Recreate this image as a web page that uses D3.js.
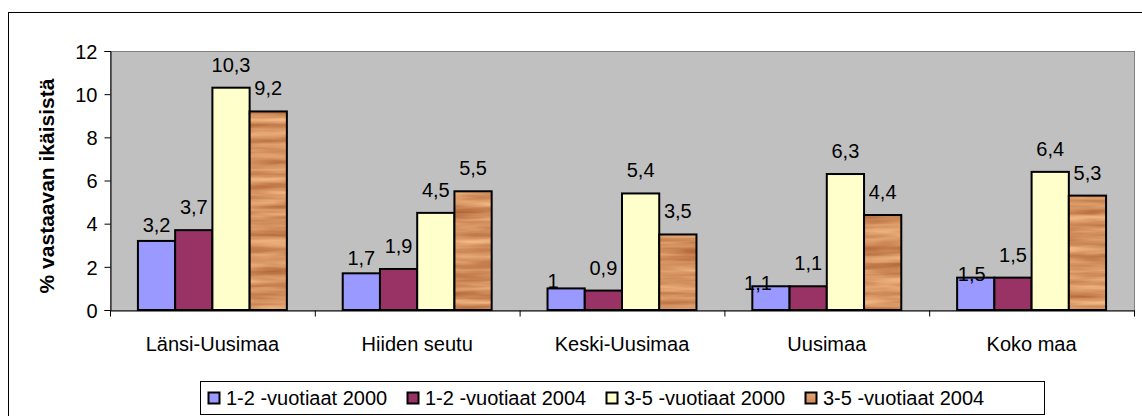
<!DOCTYPE html>
<html>
<head>
<meta charset="utf-8">
<script src="https://cdn.jsdelivr.net/npm/d3@7"></script>
<style>
  body { margin: 0; background: #fff; }
  text { font-family: "Liberation Sans", Arial, sans-serif; fill: #000; }
</style>
</head>
<body>
<svg id="chart" width="1142" height="416"></svg>
<script>
// data
const categories = ["Länsi-Uusimaa", "Hiiden seutu", "Keski-Uusimaa", "Uusimaa", "Koko maa"];
const seriesNames = ["1-2 -vuotiaat 2000", "1-2 -vuotiaat 2004", "3-5 -vuotiaat 2000", "3-5 -vuotiaat 2004"];
const v12_2000 = [3.2, 1.7, 1, 1.1, 1.5];
const v12_2004 = [3.7, 1.9, 0.9, 1.1, 1.5];
const v35_2000 = [10.3, 4.5, 5.4, 6.3, 6.4];
const v35_2004 = [9.2, 5.5, 3.5, 4.4, 5.3];
const yTicks = [0, 2, 4, 6, 8, 10, 12];

const seriesValues = [v12_2000, v12_2004, v35_2000, v35_2004];
const fills = ["#9999FF", "#993366", "#FFFFCC", "url(#woodPat)"];

// the blue labels were dragged around by hand in the original
const labelDx = [[0, 0, -13, -13, -4], [0, 0, 0, 0, 0], [0, 0, 0, 0, 0], [0, 0, 0, 0, 0]];
const labelDy = [[7, 8, 16, 20, 19], [0, 0, 0, 0, 0], [0, 0, 0, 0, 0], [0, 0, 0, 0, 0]];

const svg = d3.select("#chart");
const plot = {left: 110, right: 1134, top: 51, bottom: 310};

// wood texture for the last series
const defs = svg.append("defs");
const filt = defs.append("filter").attr("id", "wood")
  .attr("filterUnits", "userSpaceOnUse")
  .attr("color-interpolation-filters", "sRGB")
  .attr("x", 0).attr("y", 0).attr("width", 1142).attr("height", 416);
filt.append("feTurbulence")
  .attr("type", "fractalNoise")
  .attr("baseFrequency", "0.012 0.13")
  .attr("numOctaves", 3)
  .attr("seed", 5);
filt.append("feColorMatrix")
  .attr("type", "matrix")
  .attr("values", "0.35 0 0 0 0.66  0.45 0 0 0 0.35  0.4 0 0 0 0.18  0 0 0 0 1");
defs.append("pattern").attr("id", "woodPat")
  .attr("patternUnits", "userSpaceOnUse")
  .attr("width", 1142).attr("height", 416)
  .append("rect").attr("width", 1142).attr("height", 416)
  .attr("filter", "url(#wood)");

// outer chart border (runs off the picture at right and bottom)
svg.append("rect")
  .attr("x", 8.5).attr("y", 12.5)
  .attr("width", 1150).attr("height", 420)
  .attr("fill", "none").attr("stroke", "#000");

const x0 = d3.scaleBand().domain(categories)
  .range([plot.left, plot.right]).paddingInner(0).paddingOuter(0);
const bw = x0.bandwidth() / 5.5;
const x1 = d3.scaleBand().domain(d3.range(4))
  .range([bw * 0.75, x0.bandwidth() - bw * 0.75]).padding(0);
const y = d3.scaleLinear().domain([0, 12]).range([plot.bottom, plot.top]);

// plot area
svg.append("rect")
  .attr("x", plot.left + 0.5).attr("y", plot.top + 0.5)
  .attr("width", plot.right - plot.left).attr("height", plot.bottom - plot.top)
  .attr("fill", "#C0C0C0").attr("stroke", "#808080");

// bars
const barData = [];
seriesValues.forEach((vals, s) => {
  vals.forEach((v, i) => barData.push({s: s, i: i, v: v}));
});

svg.append("g").selectAll("rect")
  .data(barData)
  .join("rect")
    .attr("x", d => x0(categories[d.i]) + x1(d.s))
    .attr("y", d => y(d.v))
    .attr("width", x1.bandwidth())
    .attr("height", d => y(0) - y(d.v))
    .attr("fill", d => fills[d.s])
    .attr("stroke", "#000")
    .attr("stroke-width", 2);

// data labels
svg.append("g").selectAll("text")
  .data(barData)
  .join("text")
    .attr("x", d => x0(categories[d.i]) + x1(d.s) + x1.bandwidth() / 2 + labelDx[d.s][d.i])
    .attr("y", d => y(d.v) - 16 + labelDy[d.s][d.i])
    .attr("text-anchor", "middle")
    .attr("font-size", 20)
    .text(d => String(d.v).replace(".", ","));

// y axis
const yAxis = svg.append("g")
  .attr("transform", `translate(${plot.left + 0.5},0)`)
  .call(d3.axisLeft(y).tickValues(yTicks).tickSize(6).tickPadding(7));
yAxis.select(".domain").attr("stroke", "#000");
yAxis.selectAll("text").attr("font-size", 20).attr("font-family", null)
  .attr("dy", "0.36em");

// x axis
const xAxis = svg.append("g")
  .attr("transform", `translate(0,${plot.bottom + 0.5})`)
  .call(d3.axisBottom(x0).tickSize(0).tickSizeOuter(0).tickPadding(26));
xAxis.select(".domain").attr("stroke", "#000");
xAxis.selectAll("text").attr("font-size", 20).attr("font-family", null);
xAxis.selectAll(".sep")
  .data(d3.range(categories.length + 1))
  .join("line")
    .attr("class", "sep")
    .attr("x1", i => plot.left + 0.5 + i * x0.step())
    .attr("x2", i => plot.left + 0.5 + i * x0.step())
    .attr("y1", 0).attr("y2", 6)
    .attr("stroke", "#000");

// y axis title
svg.append("text")
  .attr("transform", "translate(54,186) rotate(-90)")
  .attr("text-anchor", "middle")
  .attr("font-size", 21)
  .attr("font-weight", "bold")
  .text("% vastaavan ikäisistä");

// legend
const legend = svg.append("g");
legend.append("rect")
  .attr("x", 200.5).attr("y", 381.5)
  .attr("width", 844).attr("height", 33)
  .attr("fill", "#fff").attr("stroke", "#000");
const item = legend.selectAll(".item")
  .data(seriesNames)
  .join("g")
    .attr("class", "item")
    .attr("transform", (d, i) => `translate(${208 + i * 199},392)`);
item.append("rect")
  .attr("width", 11).attr("height", 11)
  .attr("x", 0.5).attr("y", 0.5)
  .attr("fill", (d, i) => fills[i])
  .attr("stroke", "#000").attr("stroke-width", 2);
item.append("text")
  .attr("x", 18).attr("y", 13)
  .attr("font-size", 20)
  .text(d => d);
</script>
</body>
</html>
